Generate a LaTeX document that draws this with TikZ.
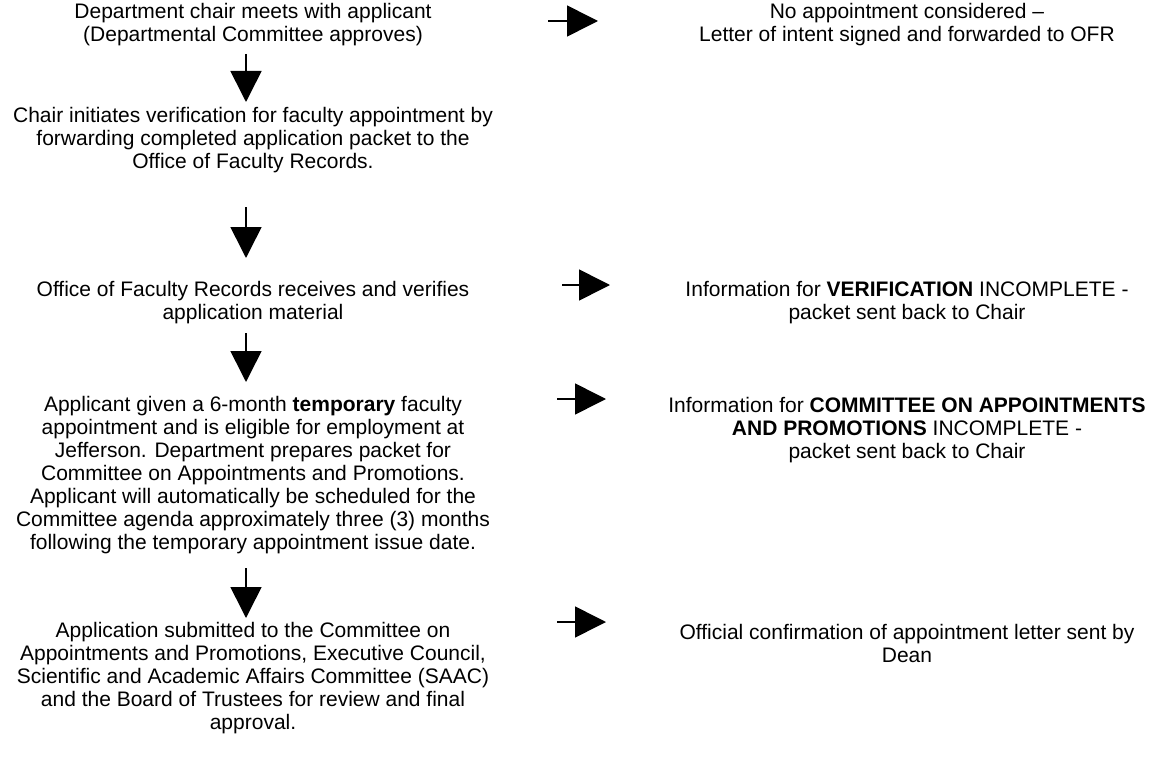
\documentclass[tikz,border=0pt]{standalone}
\usepackage{fontspec}
\setmainfont{Liberation Sans}
\usetikzlibrary{arrows.meta}
\tikzset{
  txt/.style={align=center, inner sep=0pt, font=\fontsize{21}{23}\selectfont},
  bigarrow/.style={line width=1.6pt, -{Triangle[length=31pt,width=31pt]}}
}
\begin{document}
\begin{tikzpicture}[x=1pt,y=-1pt]
\useasboundingbox (0,0) rectangle (1163,776);
% left column
\node[txt] (l1) at (253,25) {Department chair meets with applicant\\(Departmental Committee approves)};
\node[txt] (l2) at (253,140) {Chair initiates verification for faculty appointment by\\forwarding completed application packet to the\\Office of Faculty Records.};
\node[txt] (l3) at (253,303) {Office of Faculty Records receives and verifies\\application material};
\node[txt] (l4) at (253,475) {Applicant given a 6-month \textbf{temporary} faculty\\appointment and is eligible for employment at\\Jefferson. Department prepares packet for\\Committee on Appointments and Promotions.\\Applicant will automatically be scheduled for the\\Committee agenda approximately three (3) months\\following the temporary appointment issue date.};
\node[txt] (l5) at (253,678) {Application submitted to the Committee on\\Appointments and Promotions, Executive Council,\\Scientific and Academic Affairs Committee (SAAC)\\and the Board of Trustees for review and final\\approval.};
% right column
\node[txt] (r1) at (907,25) {No appointment considered –\\Letter of intent signed and forwarded to OFR};
\node[txt] (r2) at (907,303) {Information for \textbf{VERIFICATION} INCOMPLETE -\\packet sent back to Chair};
\node[txt] (r3) at (907,430) {Information for \textbf{COMMITTEE ON APPOINTMENTS}\\\textbf{AND PROMOTIONS} INCOMPLETE -\\packet sent back to Chair};
\node[txt] (r4) at (907,643) {Official confirmation of appointment letter sent by\\Dean};
% arrow coordinates
\coordinate (v1s) at (246,54);  \coordinate (v1e) at (246,102);
\coordinate (v2s) at (246,207); \coordinate (v2e) at (246,258);
\coordinate (v3s) at (246,333); \coordinate (v3e) at (246,382);
\coordinate (v4s) at (246,568); \coordinate (v4e) at (246,618);
\coordinate (h1s) at (548,21);  \coordinate (h1e) at (598,21);
\coordinate (h2s) at (562,285); \coordinate (h2e) at (610,285);
\coordinate (h3s) at (557,399); \coordinate (h3e) at (606,399);
\coordinate (h4s) at (557,622); \coordinate (h4e) at (606,622);
\foreach \a in {v1,v2,v3,v4,h1,h2,h3,h4}{
  \draw[bigarrow] (\a s) -- (\a e);
}
\end{tikzpicture}
\end{document}
